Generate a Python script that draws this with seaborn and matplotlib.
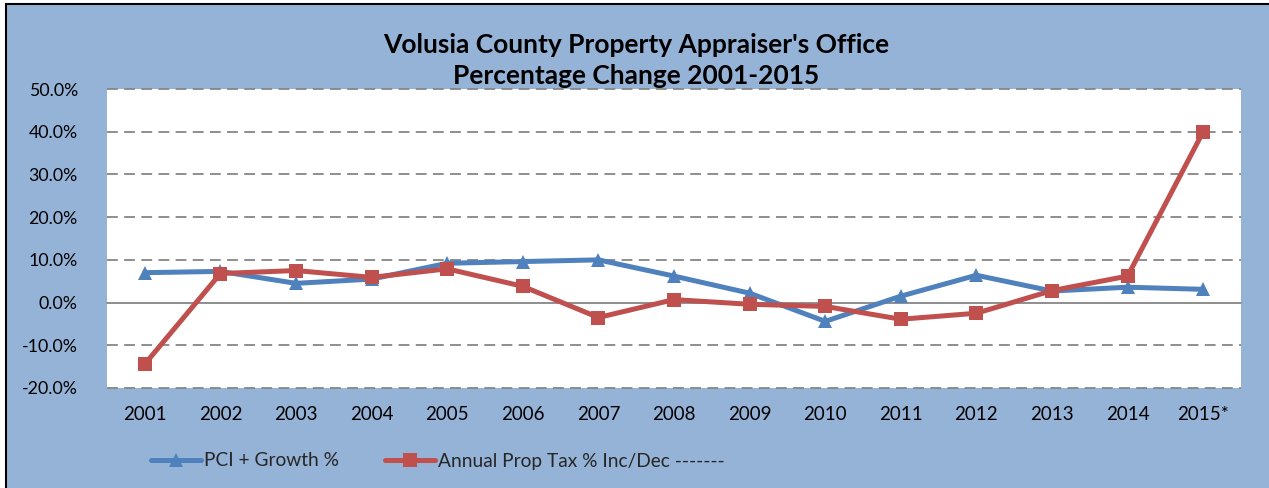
import matplotlib
matplotlib.use("Agg")
import matplotlib.pyplot as plt
import seaborn as sns
import pandas as pd
from matplotlib.patches import Rectangle
from matplotlib.ticker import FuncFormatter

years = ["2001", "2002", "2003", "2004", "2005", "2006", "2007", "2008",
         "2009", "2010", "2011", "2012", "2013", "2014", "2015*"]
pci_growth = [7.0, 7.3, 4.5, 5.5, 9.2, 9.6, 10.0, 6.2, 2.2, -4.4, 1.5, 6.4, 2.7, 3.6, 3.1]
prop_tax = [-14.4, 6.8, 7.5, 5.9, 7.9, 3.8, -3.5, 0.7, -0.4, -0.9, -3.9, -2.5, 2.8, 6.2, 40.0]
series_names = ["PCI + Growth %", "Annual Prop Tax % Inc/Dec -------"]
title_lines = ["Volusia County Property Appraiser's Office", "Percentage Change 2001-2015"]

sns.set_theme(style="white")
plt.rcParams['font.family'] = ['Lato', 'DejaVu Sans']

W, H = 1269, 488
fig = plt.figure(figsize=(W / 100, H / 100), dpi=100)
fig.patch.set_facecolor("white")
bg = "#95B3D7"
fig.patches.append(Rectangle((5.5 / W, -0.1), 1.2, (H - 4.5) / H + 0.1,
                             transform=fig.transFigure, facecolor=bg,
                             edgecolor="black", linewidth=1.5, zorder=-5))

ax = fig.add_axes([107 / W, 1 - 388 / H, (1241 - 107) / W, (388 - 89) / H])
ax.set_zorder(2)
ax.set_facecolor("white")

df = pd.DataFrame({"x": list(range(len(years))) * 2,
                   "y": pci_growth + prop_tax,
                   "series": [series_names[0]] * len(years) + [series_names[1]] * len(years)})

sns.lineplot(data=df[df.series == series_names[0]], x="x", y="y", ax=ax,
             color="#4F81BD", linewidth=3.6, marker="^", markersize=10.5,
             markeredgewidth=0, label=series_names[0], zorder=3)
sns.lineplot(data=df[df.series == series_names[1]], x="x", y="y", ax=ax,
             color="#C0504D", linewidth=3.6, marker="s", markersize=10,
             markeredgewidth=0, label=series_names[1], zorder=4)

ax.set_xlim(-0.5, len(years) - 0.5)
ax.set_ylim(-20, 50)
ax.set_yticks(range(-20, 51, 10))
ax.yaxis.set_major_formatter(FuncFormatter(lambda v, p: f"{v:.1f}%"))
ax.set_xticks(range(len(years)))
ax.set_xticklabels(years)
ax.set_xlabel("")
ax.set_ylabel("")
for s in ax.spines.values():
    s.set_visible(False)
ax.tick_params(axis="both", length=0, colors="black")
ax.tick_params(axis="x", pad=13, labelsize=13.5)
ax.tick_params(axis="y", pad=21, labelsize=12.8)

for v in range(-20, 51, 10):
    if v == 0:
        ax.axhline(v, color="#868686", linewidth=1.3, zorder=1, clip_on=False)
    else:
        ax.axhline(v, color="#868686", linewidth=1.3, linestyle=(0, (6, 3.5)),
                   zorder=1, clip_on=False)

fig.text(636 / W, 1 - 45 / H, title_lines[0], ha="center", va="center",
         fontsize=19, fontweight="bold", color="black")
fig.text(636 / W, 1 - 76 / H, title_lines[1], ha="center", va="center",
         fontsize=19, fontweight="bold", color="black")

ax.legend(loc="center left", bbox_to_anchor=(134 / W, 1 - 461 / H),
          bbox_transform=fig.transFigure, ncol=2, frameon=False,
          fontsize=13.8, handlelength=2.6, columnspacing=2.4, handletextpad=0.15)

fig.savefig("out.png", dpi=100, facecolor=fig.get_facecolor())
